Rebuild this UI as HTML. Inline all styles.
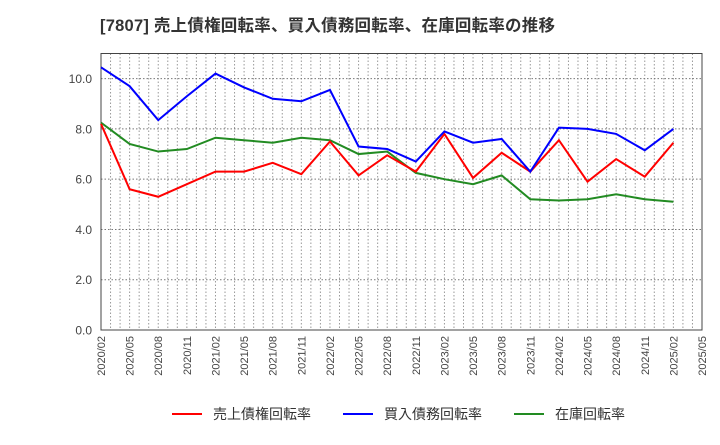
<!DOCTYPE html>
<html><head><meta charset="utf-8"><style>
body{margin:0;background:#fff;font-family:"Liberation Sans","Noto Sans CJK JP",sans-serif;}
svg text{font-family:"Liberation Sans","Noto Sans CJK JP",sans-serif;}
</style></head><body>
<svg id="chart" width="720" height="440" xmlns="http://www.w3.org/2000/svg">
<text x="100" y="31" font-size="16.5" font-weight="bold" fill="#333" textLength="455" lengthAdjust="spacing">[7807]  売上債権回転率、買入債務回転率、在庫回転率の推移</text>
<g id="grid"></g><g id="axes"></g><g id="series"></g><g id="legend"></g>
</svg>
<script>
const xLabels=["2020/02","2020/05","2020/08","2020/11","2021/02","2021/05","2021/08","2021/11","2022/02","2022/05","2022/08","2022/11","2023/02","2023/05","2023/08","2023/11","2024/02","2024/05","2024/08","2024/11","2025/02","2025/05"];
const yTicks=[0,2,4,6,8,10];
const receivables=[8.2,5.6,5.3,5.8,6.3,6.3,6.65,6.2,7.5,6.15,6.95,6.3,7.8,6.05,7.05,6.3,7.55,5.9,6.8,6.1,7.45];
const payables=[10.45,9.7,8.35,9.3,10.2,9.65,9.2,9.1,9.55,7.3,7.2,6.7,7.9,7.45,7.6,6.3,8.05,8.0,7.8,7.15,8.0];
const inventory=[8.25,7.4,7.1,7.2,7.65,7.55,7.45,7.65,7.55,7.0,7.1,6.25,6.0,5.8,6.15,5.2,5.15,5.2,5.4,5.2,5.1];
const L=101,R=702,T=53.5,B=330,YMAX=11;
const NS="http://www.w3.org/2000/svg";
const xs=i=>L+i*(R-L)/(xLabels.length-1);
const ys=v=>B-v/YMAX*(B-T);
function mk(tag,attrs,parent){const e=document.createElementNS(NS,tag);for(const k in attrs)e.setAttribute(k,attrs[k]);parent.appendChild(e);return e;}
const grid=document.getElementById('grid'),axes=document.getElementById('axes'),ser=document.getElementById('series'),leg=document.getElementById('legend');
const nMonths=(xLabels.length-1)*3;
for(let m=1;m<nMonths;m++){const x=L+m*(R-L)/nMonths;const g=mk('line',{x1:x,x2:x,y1:T,y2:B,stroke:'#999','stroke-width':1,'stroke-dasharray':'1.5,2'},grid);

}
yTicks.forEach(v=>{const y=ys(v);if(v>0){const g=mk('line',{x1:L,x2:R,y1:y,y2:y,stroke:'#777','stroke-width':1,'stroke-dasharray':'1.5,2'},grid);

}
const t=mk('text',{x:L-9,y:y+4.5,'text-anchor':'end','font-size':12,fill:'#444'},axes);t.textContent=v.toFixed(1);

});
xLabels.forEach((lab,i)=>{const x=xs(i);const t=mk('text',{x:0,y:0,'text-anchor':'end','font-size':11,fill:'#444',transform:`translate(${x+4},${B+6}) rotate(-90)`},axes);t.textContent=lab;

});
const frame=mk('rect',{x:L,y:T,width:R-L,height:B-T,fill:'none',stroke:'#444','stroke-width':1},axes);


const defs=[[inventory,'#228b22','inventory-turnover-line'],[receivables,'#ff0000','receivables-turnover-line'],[payables,'#0000ff','payables-turnover-line']];
defs.forEach(([d,c,n])=>{const p=mk('polyline',{points:d.map((v,i)=>xs(i)+','+ys(v)).join(' '),fill:'none',stroke:c,'stroke-width':2},ser);

});
const legItems=[['#ff0000','売上債権回転率',172],['#0000ff','買入債務回転率',343],['#228b22','在庫回転率',514]];
legItems.forEach(([c,t,x])=>{const g=mk('g',{},leg);


mk('line',{x1:x,x2:x+30,y1:414,y2:414,stroke:c,'stroke-width':2},g);
const tx=mk('text',{x:x+41,y:419,'font-size':14,fill:'#333'},g);tx.textContent=t;});
</script>
</body></html>
